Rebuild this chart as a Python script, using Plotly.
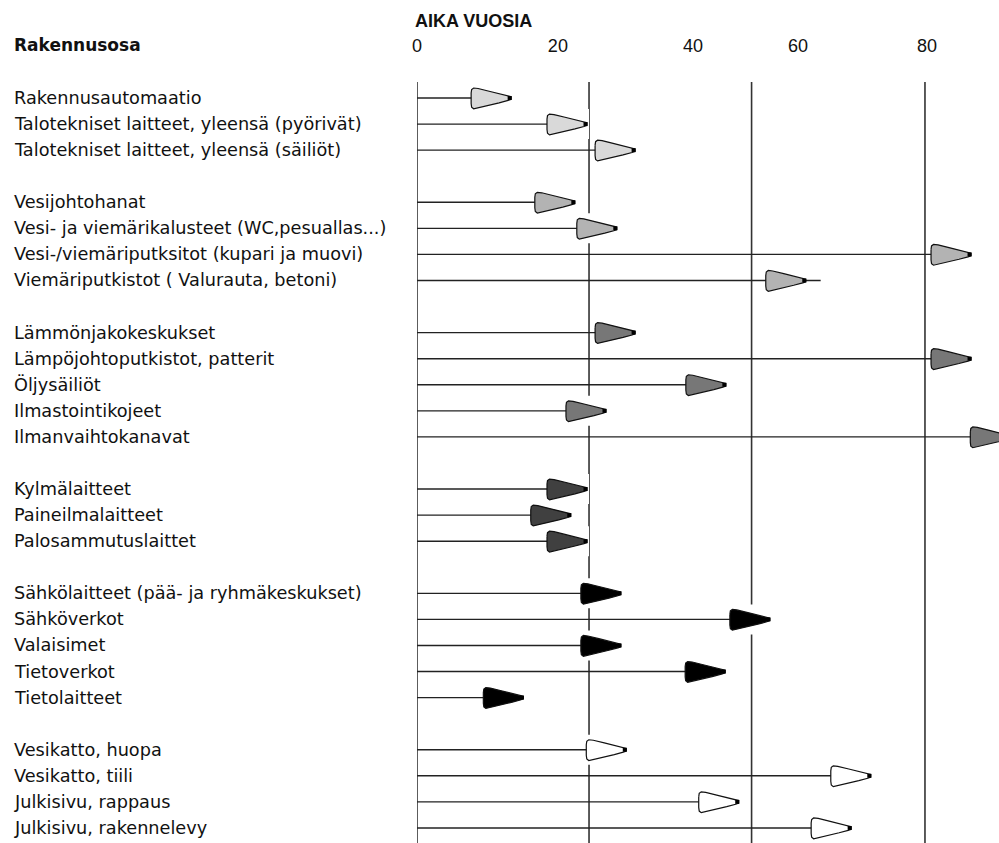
import plotly.graph_objects as go

# ---------------- data ----------------
rakennusosat = [
    "Rakennusautomaatio",
    "Talotekniset laitteet, yleensä (pyörivät)",
    "Talotekniset laitteet, yleensä (säiliöt)",
    "Vesijohtohanat",
    "Vesi- ja viemärikalusteet (WC,pesuallas...)",
    "Vesi-/viemäriputksitot (kupari ja muovi)",
    "Viemäriputkistot ( Valurauta, betoni)",
    "Lämmönjakokeskukset",
    "Lämpöjohtoputkistot, patterit",
    "Öljysäiliöt",
    "Ilmastointikojeet",
    "Ilmanvaihtokanavat",
    "Kylmälaitteet",
    "Paineilmalaitteet",
    "Palosammutuslaittet",
    "Sähkölaitteet (pää- ja ryhmäkeskukset)",
    "Sähköverkot",
    "Valaisimet",
    "Tietoverkot",
    "Tietolaitteet",
    "Vesikatto, huopa",
    "Vesikatto, tiili",
    "Julkisivu, rappaus",
    "Julkisivu, rakennelevy",
]
ryhma = [0, 0, 0, 1, 1, 1, 1, 2, 2, 2, 2, 2, 3, 3, 3, 4, 4, 4, 4, 4, 5, 5, 5, 5]
# arrow tip position (years)
nuolen_karki = [13.9, 25.1, 32.2, 23.3, 29.5, 81.8, 57.4, 32.2, 81.8, 45.6, 27.9, 87.6,
                25.1, 22.7, 25.1, 30.1, 52.1, 30.1, 45.5, 15.7, 30.9, 67.0, 47.5, 64.1]
# end of the horizontal line (years)
viivan_loppu = [13.9, 25.1, 32.2, 23.3, 29.5, 81.8, 59.6, 32.2, 81.8, 45.6, 27.9, 87.6,
                25.1, 22.7, 25.1, 30.1, 52.1, 30.1, 45.5, 15.7, 30.9, 67.0, 47.5, 64.1]
# printed scale labels and where they sit on the year scale
asteikko_tekstit = ["0", "20", "40", "60", "80"]
asteikko_arvot = [0, 20.8, 40.75, 56.25, 75.3]
# vertical reference lines (years)
apuviivat = [0, 25.4, 49.4, 75.0]

# ---------------- styles / layout ----------------
W, H = 999, 843
ML, MT = 417, 82
PW, PH = W - ML, H - MT
X_MAX = 85.93
Y_TOP, Y_BOT = -0.614, 28.577
PPX = PW / X_MAX                 # px per year
PPY = PH / (Y_BOT - Y_TOP)       # px per row

varit = ["#d9d9d9", "#b3b3b3", "#777777", "#404040", "#000000", "#ffffff"]

ARROW = [(-40, -5), (-39.5, -8.5), (-37.5, -10), (-33, -9.5), (-22, -6.8), (-12, -4.2),
         (-3, -2.2), (0, -1.3), (0, 1.3), (-3, 2.4), (-12, 4.8), (-22, 7.3), (-33, 10.2),
         (-37.5, 10.8), (-39.5, 9.2), (-40, 5.5)]

rivit = [i + g for i, g in enumerate(ryhma)]

fig = go.Figure()

# reference lines + white backgrounds behind arrows (they cut the reference lines)
shapes = []
for v in apuviivat:
    shapes.append(dict(type="line", xref="x", yref="paper", x0=v, x1=v, y0=0, y1=1,
                       line=dict(color="#333333", width=1.6), layer="between"))
for tip, r in zip(nuolen_karki, rivit):
    shapes.append(dict(type="rect", xref="x", yref="y",
                       x0=tip - 42 / PPX, x1=tip + 2 / PPX,
                       y0=r - 15 / PPY, y1=r + 15 / PPY,
                       fillcolor="white", line=dict(width=0), layer="between"))

# horizontal lines
lx, ly = [], []
for end, r in zip(viivan_loppu, rivit):
    lx += [0, end, None]
    ly += [r, r, None]
fig.add_trace(go.Scatter(x=lx, y=ly, mode="lines", line=dict(color="#222222", width=1.4),
                         hoverinfo="skip", showlegend=False))

# arrows, one trace per colour group
for g, col in enumerate(varit):
    ax, ay = [], []
    for tip, r, gg in zip(nuolen_karki, rivit, ryhma):
        if gg != g:
            continue
        for dx, dy in ARROW:
            ax.append(tip + dx / PPX)
            ay.append(r + dy / PPY)
        ax.append(tip + ARROW[0][0] / PPX)
        ay.append(r + ARROW[0][1] / PPY)
        ax.append(None)
        ay.append(None)
    fig.add_trace(go.Scatter(x=ax, y=ay, mode="lines", fill="toself", fillcolor=col,
                             line=dict(color="#111111", width=1.2),
                             hoverinfo="skip", showlegend=False))

# tip dots
fig.add_trace(go.Scatter(x=[t - 1.5 / PPX for t in nuolen_karki], y=rivit, mode="markers",
                         marker=dict(symbol="square", size=4, color="#000000"),
                         hoverinfo="skip", showlegend=False))

annotations = []
LX = -(ML - 12) / PW
for name, r in zip(rakennusosat, rivit):
    annotations.append(dict(text=name, xref="paper", yref="y", x=LX, y=r,
                            xanchor="left", yanchor="middle", showarrow=False,
                            font=dict(family="DejaVu Sans", size=17.7, color="#111111")))
annotations.append(dict(text="<b>Rakennusosa</b>", xref="paper", yref="paper",
                        x=LX, y=(H - 45) / PH, xanchor="left", yanchor="middle",
                        showarrow=False,
                        font=dict(family="DejaVu Sans", size=17, color="#111111")))
annotations.append(dict(text="<b>AIKA VUOSIA</b>", xref="paper", yref="paper",
                        x=-4 / PW, y=(H - 21) / PH, xanchor="left", yanchor="middle",
                        showarrow=False,
                        font=dict(family="Liberation Sans, Arial", size=18, color="#111111")))

fig.update_layout(
    width=W, height=H,
    margin=dict(l=ML, r=0, t=MT, b=0, pad=0),
    paper_bgcolor="white", plot_bgcolor="white",
    shapes=shapes, annotations=annotations,
    xaxis=dict(range=[0, X_MAX], side="top", tickmode="array",
               tickvals=asteikko_arvot, ticktext=asteikko_tekstit,
               showgrid=False, zeroline=False, showline=False,
               ticks="outside", ticklen=22, tickcolor="rgba(0,0,0,0)",
               tickfont=dict(family="Liberation Sans, Arial", size=18, color="#111111"),
               fixedrange=True),
    yaxis=dict(range=[Y_BOT, Y_TOP], visible=False, fixedrange=True),
    showlegend=False,
)

fig.write_html("out.html", config={"displayModeBar": False},
               post_script="document.body.style.margin='0';document.body.style.overflow='hidden';")
